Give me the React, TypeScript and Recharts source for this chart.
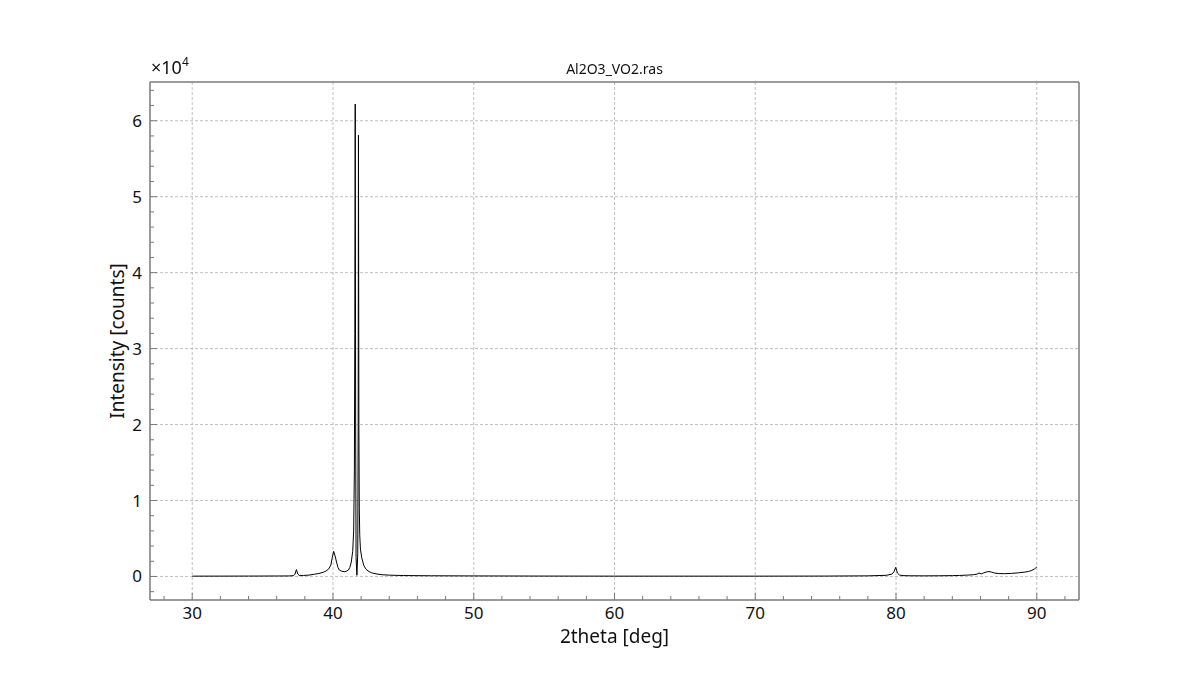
import React from 'react';
import { LineChart, Line, XAxis, YAxis, ReferenceLine } from 'recharts';

// 2theta positions (deg) and intensity (counts)
const twoTheta = [
  30, 32, 34, 36, 36.9, 37.2, 37.3, 37.4, 37.5, 37.6, 37.9, 38.3, 38.7, 39.0, 39.3, 39.5, 39.7, 39.85,
  39.95, 40.05, 40.15, 40.25, 40.35, 40.45, 40.6, 40.8, 40.95, 41.1, 41.2, 41.3, 41.4, 41.47, 41.52,
  41.55, 41.58, 41.61, 41.64, 41.7, 41.76, 41.79, 41.81, 41.84, 41.87, 41.9, 41.95, 42.05, 42.2, 42.35,
  42.55, 42.75, 42.9, 43.2, 43.5, 44, 45, 47, 50, 55, 60, 65, 70, 75, 78, 79.3, 79.7, 79.85, 79.98,
  80.1, 80.25, 80.5, 81, 82, 83, 84, 84.5, 85, 85.5, 85.75, 85.9, 86.05, 86.2, 86.4, 86.6, 86.8, 87.0,
  87.3, 87.7, 88.2, 88.7, 89.1, 89.4, 89.65, 89.85, 90,
];
const counts = [
  40, 45, 50, 60, 70, 110, 300, 900, 320, 140, 130, 180, 300, 390, 550, 700, 1000, 1500,
  2500, 3300, 2700, 1900, 1200, 850, 700, 620, 680, 850, 1200, 1900, 3300, 6000, 14000,
  32000, 62200, 20000, 2500, 150, 3000, 20000, 58100, 20000, 9000, 5500, 3600, 2400, 1400, 950,
  650, 480, 400, 300, 230, 170, 120, 90, 70, 50, 40, 40, 40, 50, 80, 150, 300, 600, 1200,
  450, 180, 110, 90, 80, 90, 110, 130, 170, 230, 300, 450, 330, 450, 580, 650, 560, 450,
  380, 370, 400, 480, 560, 650, 800, 1000, 1250,
];

const xMajorTicks = [30, 40, 50, 60, 70, 80, 90];
const xMinorTicks = [28, 32, 34, 36, 38, 42, 44, 46, 48, 52, 54, 56, 58, 62, 64, 66, 68, 72, 74, 76, 78, 82, 84, 86, 88, 92];
const yMajorTicks = [0, 10000, 20000, 30000, 40000, 50000, 60000];
const yTickLabels = ['0', '1', '2', '3', '4', '5', '6'];
const yMinorTicks = [
  -2000, 2000, 4000, 6000, 8000, 12000, 14000, 16000, 18000, 22000, 24000, 26000, 28000,
  32000, 34000, 36000, 38000, 42000, 44000, 46000, 48000, 52000, 54000, 56000, 58000, 62000, 64000,
];

const xDomain = [27, 93];
const yDomain = [-3100, 65100];

const data = twoTheta.map((x, i) => ({ x, y: counts[i] }));

const FONT = '"Noto Sans", "DejaVu Sans", sans-serif';
const AXIS = '#7a7a7a';
const GRID = '#b0b0b0';
const TEXT = '#111';

const XTick = (props: any) => {
  const { x, y, payload } = props;
  const v = payload.value;
  const major = xMajorTicks.includes(v);
  return (
    <g>
      <line x1={x} x2={x} y1={y} y2={y - (major ? 7 : 4)} stroke={AXIS} strokeWidth={1} />
      {major && (
        <text x={x} y={y + 19} textAnchor="middle" fontSize={17} fontFamily={FONT} fill={TEXT}>
          {v}
        </text>
      )}
    </g>
  );
};

const YTick = (props: any) => {
  const { x, y, payload } = props;
  const v = payload.value;
  const idx = yMajorTicks.indexOf(v);
  const major = idx >= 0;
  return (
    <g>
      <line x1={x} x2={x + (major ? 7 : 4)} y1={y} y2={y} stroke={AXIS} strokeWidth={1} />
      {major && (
        <text x={x - 8} y={y + 6} textAnchor="end" fontSize={17} fontFamily={FONT} fill={TEXT}>
          {yTickLabels[idx]}
        </text>
      )}
    </g>
  );
};

export default function App() {
  const xTicks = [...xMajorTicks, ...xMinorTicks].sort((a, b) => a - b);
  const yTicks = [...yMajorTicks, ...yMinorTicks].sort((a, b) => a - b);
  return (
    <div style={{ position: 'fixed', left: 0, top: 0, width: 1200, height: 675, background: '#fff' }}>
      <LineChart width={1200} height={675} data={data} margin={{ top: 82, right: 121, bottom: 74, left: 149 }}>
        <XAxis
          dataKey="x"
          type="number"
          domain={xDomain}
          ticks={xTicks}
          interval={0}
          allowDataOverflow
          height={1}
          tickSize={0}
          tickMargin={0}
          tick={<XTick />}
          axisLine={{ stroke: AXIS, strokeWidth: 1.5 }}
          tickLine={false}
        />
        <YAxis
          type="number"
          domain={yDomain}
          ticks={yTicks}
          interval={0}
          allowDataOverflow
          width={1}
          tickSize={0}
          tickMargin={0}
          tick={<YTick />}
          axisLine={{ stroke: AXIS, strokeWidth: 1.5 }}
          tickLine={false}
        />
        {xMajorTicks.map((v) => (
          <ReferenceLine key={'gx' + v} x={v} stroke={GRID} strokeDasharray="3 2" strokeWidth={0.8} />
        ))}
        {yMajorTicks.map((v) => (
          <ReferenceLine key={'gy' + v} y={v} stroke={GRID} strokeDasharray="3 2" strokeWidth={0.8} />
        ))}
        <ReferenceLine x={xDomain[1]} stroke={AXIS} strokeWidth={1.5} />
        <ReferenceLine y={yDomain[1]} stroke={AXIS} strokeWidth={1.5} />
        <Line
          type="linear"
          dataKey="y"
          stroke="#000"
          strokeWidth={1}
          dot={false}
          activeDot={false}
          isAnimationActive={false}
        />
      </LineChart>
      <div style={{ position: 'absolute', left: 0, width: 1229, top: 59, textAlign: 'center', fontFamily: FONT, fontSize: 14, color: TEXT }}>
        Al2O3_VO2.ras
      </div>
      <div style={{ position: 'absolute', left: 151, top: 56, fontFamily: FONT, fontSize: 18, lineHeight: '22px', color: TEXT }}>
        ×10<span style={{ fontSize: 12, position: 'relative', top: -8 }}>4</span>
      </div>
      <div style={{ position: 'absolute', left: 0, width: 1229, top: 623, textAlign: 'center', fontFamily: FONT, fontSize: 19, color: TEXT }}>
        2theta [deg]
      </div>
      <div
        style={{
          position: 'absolute',
          left: 117,
          top: 341,
          transform: 'translate(-50%, -50%) rotate(-90deg)',
          fontFamily: FONT,
          fontSize: 19,
          color: TEXT,
          whiteSpace: 'nowrap',
        }}
      >
        Intensity [counts]
      </div>
    </div>
  );
}
